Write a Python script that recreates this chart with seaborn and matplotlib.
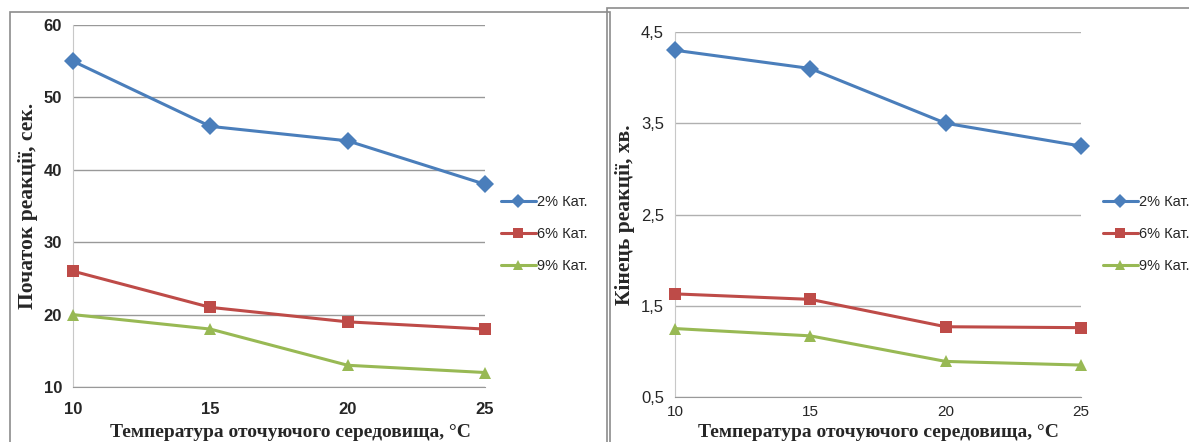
import matplotlib
matplotlib.use("agg")
import matplotlib.pyplot as plt
from matplotlib.patches import Rectangle
import pandas as pd
import seaborn as sns

temps = [10, 15, 20, 25]
series = ["2% Кат.", "6% Кат.", "9% Кат."]

start_2 = [55, 46, 44, 38]
start_6 = [26, 21, 19, 18]
start_9 = [20, 18, 13, 12]

end_2 = [4.3, 4.1, 3.5, 3.25]
end_6 = [1.63, 1.57, 1.27, 1.26]
end_9 = [1.25, 1.17, 0.89, 0.85]

xlabel = "Температура оточуючого середовища, °C"
ylabel_left = "Початок реакції, сек."
ylabel_right = "Кінець реакції, хв."

palette = {"2% Кат.": "#4A7EBB", "6% Кат.": "#BE4B48", "9% Кат.": "#98B954"}
markers = {"2% Кат.": "D", "6% Кат.": "s", "9% Кат.": "^"}


def make_df(a, b, c):
    rows = []
    for name, vals in zip(series, [a, b, c]):
        for t, v in zip(temps, vals):
            rows.append({"t": t, "v": v, "s": name})
    return pd.DataFrame(rows)


sns.set_style("white")
plt.rcParams["font.family"] = ["Liberation Sans", "DejaVu Sans"]

fig = plt.figure(figsize=(11.89, 4.42), dpi=100)

# panel frames
fig.patches.append(Rectangle((10 / 1189, -0.1), 600 / 1189, 1 - 12 / 442 + 0.1,
                             transform=fig.transFigure, fill=False,
                             edgecolor="#8c8c8c", linewidth=1.2))
fig.patches.append(Rectangle((607 / 1189, -0.1), 600 / 1189, 1 - 8 / 442 + 0.1,
                             transform=fig.transFigure, fill=False,
                             edgecolor="#8c8c8c", linewidth=1.2))

ax1 = fig.add_axes([73 / 1189, 1 - 387 / 442, 412 / 1189, 362 / 442])
ax2 = fig.add_axes([675 / 1189, 1 - 397 / 442, 406 / 1189, 365 / 442])

configs = [
    (ax1, make_df(start_2, start_6, start_9), (10, 60), range(10, 61, 10),
     ["10", "20", "30", "40", "50", "60"], ylabel_left, True, "#999999", 12, 11),
    (ax2, make_df(end_2, end_6, end_9), (0.5, 4.5), [0.5, 1.5, 2.5, 3.5, 4.5],
     ["0,5", "1,5", "2,5", "3,5", "4,5"], ylabel_right, False, "#b0b0b0", 11, 6),
]

for ax, df, ylim, yt, ytl, ylab, bold, gcol, tsize, xpad in configs:
    sns.lineplot(data=df, x="t", y="v", hue="s", style="s", palette=palette,
                 markers=markers, dashes=False, linewidth=2.2, markersize=9,
                 markeredgewidth=0, ax=ax, legend=False, zorder=3)
    ax.set_xlim(10, 25)
    ax.set_ylim(*ylim)
    ax.set_xticks(temps)
    ax.set_xticklabels([str(t) for t in temps])
    ax.set_yticks(list(yt))
    ax.set_yticklabels(ytl)
    ax.grid(axis="y", color=gcol, linewidth=1)
    ax.set_axisbelow(True)
    for side in ["top", "right"]:
        ax.spines[side].set_visible(False)
    ax.spines["left"].set_color("#c8c8c8")
    ax.spines["bottom"].set_color("#999999")
    ax.tick_params(axis="y", labelsize=12, length=0, pad=8)
    ax.tick_params(axis="x", labelsize=tsize, length=0, pad=xpad)
    for lab in ax.get_xticklabels() + ax.get_yticklabels():
        lab.set_fontweight("bold" if bold else "normal")
    ax.set_xlabel("")
    ax.set_ylabel(ylab, fontsize=15.5, fontweight="bold",
                  family="Liberation Serif", labelpad=4)
    ax.margins(x=0)
    for line in ax.lines:
        line.set_clip_on(False)

# legends
for ax, anchor in [(ax1, (495 / 1189, 1 - 189 / 442)), (ax2, (1097 / 1189, 1 - 189 / 442))]:
    handles = [plt.Line2D([], [], color=palette[s], marker=markers[s], linewidth=2.2,
                          markersize=7, markeredgewidth=0) for s in series]
    leg = fig.legend(handles, series, loc="upper left", bbox_to_anchor=anchor,
                     frameon=False, fontsize=10.5, handlelength=2.4,
                     handletextpad=0.1, labelspacing=1.25, borderaxespad=0)

fig.text(290 / 1189, 1 / 442, xlabel, ha="center", va="bottom",
         fontsize=14, fontweight="bold", family="Liberation Serif")
fig.text(878 / 1189, 1 / 442, xlabel, ha="center", va="bottom",
         fontsize=14, fontweight="bold", family="Liberation Serif")

fig.savefig("out.png", dpi=100)
